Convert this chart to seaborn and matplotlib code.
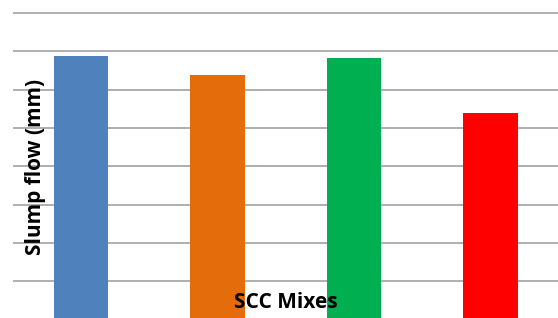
import matplotlib
matplotlib.use("Agg")
import matplotlib.pyplot as plt
import seaborn as sns
import pandas as pd

mixes = ["M1", "M2", "M3", "M4"]
slump_flow = [689, 639, 684, 539]
colors = ["#4f81bd", "#e46c0a", "#00b050", "#ff0000"]
grid_values = [100, 200, 300, 400, 500, 600, 700, 800]

sns.set_theme(style="white")
plt.rcParams['font.family'] = ['Open Sans', 'DejaVu Sans']

df = pd.DataFrame({"mix": mixes, "flow": slump_flow})

W, H = 558, 318
fig = plt.figure(figsize=(W / 100, H / 100), dpi=100)
# axes: x from px 13 to 558.5 ; y zero at px 319.6, 850 at px -6.0
ax = fig.add_axes([13 / W, (H - 319.6) / H, 545.5 / W, 325.6 / H])

sns.barplot(data=df, x="mix", y="flow", hue="mix", palette=colors,
            legend=False, width=0.40, saturation=1, ax=ax, zorder=3,
            edgecolor="none")

ax.set_ylim(0, 850)
ax.set_xlim(-0.5, 3.5)
ax.set_yticks(grid_values)
ax.yaxis.grid(True, color="#a8a8a8", linewidth=1.3, zorder=0)
ax.xaxis.grid(False)
ax.set_axisbelow(True)
ax.tick_params(left=False, bottom=False, labelleft=False, labelbottom=False)
for s in ax.spines.values():
    s.set_visible(False)
ax.set_xlabel("")
ax.set_ylabel("")

fig.text(286 / W, 1 - 302 / H, "SCC Mixes", ha="center", va="center",
         fontsize=15, fontweight="bold", color="#000000")
fig.text(36 / W, 1 - 167 / H, "Slump flow (mm)", ha="center", va="center",
         rotation=90, fontsize=15, fontweight="bold", color="#000000")

fig.savefig("out.png", dpi=100)
